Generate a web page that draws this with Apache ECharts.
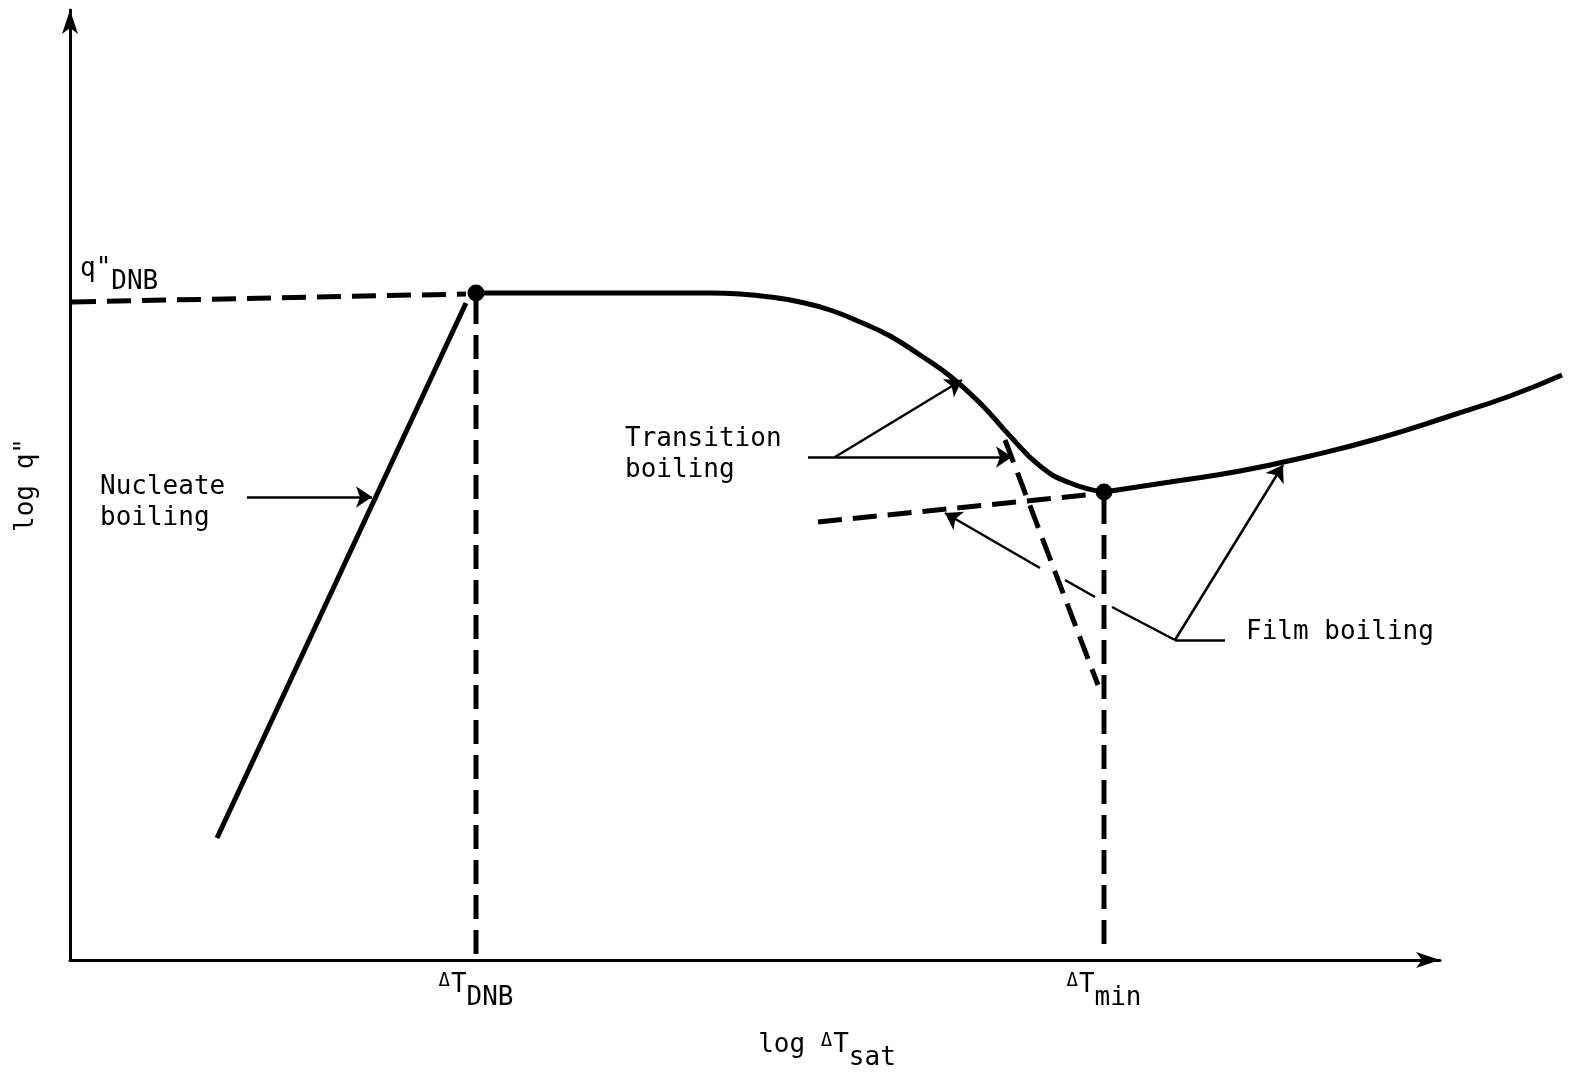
<!DOCTYPE html>
<html><head><meta charset="utf-8">
<script src="https://cdn.jsdelivr.net/npm/echarts@6/dist/echarts.min.js"></script>
<style>html,body{margin:0;padding:0;background:#fff}#c{width:1569px;height:1077px}</style>
</head><body><div id="c"></div>
<script>
// Schematic units: x = log ΔT_sat (0..1370), y = log q" (0..950)
const xTickValues = [406, 1034];
const xTickLabels = ['{d|Δ}{t|T}{s|DNB}', '{d|Δ}{t|T}{s|min}'];
const xAxisTitle = '{t|log }{d|Δ}{t|T}{s|sat}';
const yAxisTitle = 'log q"';

const nucleateLine = [[147, 122], [396, 657]];
const dnbLevelDashed = [[2, 658], [396, 666]];
const dnbVertical = [[406, 660], [406, 5]];
const transitionCurve = [[406, 667], [490, 667], [580, 667], [640, 667], [670, 666], [700, 663], [730, 658], [760, 650], [790, 638], [820, 624], [850, 605], [880, 584], [910, 557], [940, 524], [970, 494], [1000, 477], [1034, 468]];
const filmCurve = [[1034, 468], [1100, 478], [1170, 489], [1240, 504], [1310, 522], [1380, 544], [1440, 564], [1492, 585]];
const filmExtension = [[748, 438], [1026, 466]];
const transitionExtension = [[935, 520], [1028, 275]];
const minVertical = [[1034, 460], [1034, 5]];
const keyPoints = [[406, 667], [1034, 468]];

const arrowLines = [
  [[177, 463], [302, 463]],   // nucleate
  [[765, 503], [892, 580]],   // transition upper
  [[738, 503], [942, 503]],   // transition lower
  [[970, 392], [875, 447]],   // film -> extension
  [[1105, 320], [1213, 495]]  // film -> curve
];
const plainLines = [
  [[995, 380], [1025, 363]],
  [[1042, 353], [1105, 320]],
  [[1105, 320], [1155, 320]]
];
const textLabels = [
  {value: [30, 457], text: 'Nucleate\nboiling'},
  {value: [555, 505], text: 'Transition\nboiling'},
  {value: [1176, 328], text: 'Film boiling'},
  {value: [10, 690], text: '{t|q"}{s|DNB}'}
];

const FONT = 'DejaVu Sans Mono';
const richText = {
  t: {fontSize: 26, fontFamily: FONT, color: '#000', verticalAlign: 'top', lineHeight: 28},
  d: {fontSize: 19, fontFamily: FONT, color: '#000', verticalAlign: 'top', lineHeight: 28, padding: [0, 1, 0, 0]},
  s: {fontSize: 26, fontFamily: FONT, color: '#000', verticalAlign: 'top', lineHeight: 28, padding: [13, 0, 0, 0]}
};

const chart = echarts.init(document.getElementById('c'));
const thick = {color: '#000', width: 5};
const dash = {color: '#000', width: 5, type: [24, 11], cap: 'butt'};
const hiddenAxis = {show: false};

chart.setOption({
  backgroundColor: '#fff',
  animation: false,
  grid: [
    {left: 70, right: 129, top: 10, bottom: 117, containLabel: false, outerBoundsMode: 'none'},
    // same scale, wider area, so the film-boiling curve can run past the axis arrow
    {left: 70, right: 0, top: 10, bottom: 117, containLabel: false, outerBoundsMode: 'none'}
  ],
  xAxis: [{
    type: 'value', min: 0, max: 1370, gridIndex: 0,
    splitLine: {show: false},
    axisTick: {show: false},
    axisLine: {onZero: false, lineStyle: {color: '#000', width: 3}, symbol: ['none', 'arrow'], symbolSize: [12, 24]},
    axisLabel: {
      customValues: xTickValues, margin: 12,
      formatter: function (v) { return xTickLabels[xTickValues.indexOf(v)] || ''; },
      rich: richText
    },
    name: xAxisTitle, nameLocation: 'middle', nameGap: 72,
    nameTextStyle: {rich: richText, padding: [0, 0, 0, 144]}
  }, {
    type: 'value', min: 0, max: 1499, gridIndex: 1,
    show: false, splitLine: hiddenAxis
  }],
  yAxis: [{
    type: 'value', min: 0, max: 950, gridIndex: 0,
    splitLine: {show: false},
    axisTick: {show: false},
    axisLabel: {show: false},
    axisLine: {onZero: false, lineStyle: {color: '#000', width: 3}, symbol: ['none', 'arrow'], symbolSize: [12, 24]},
    name: yAxisTitle, nameLocation: 'middle', nameGap: 31, nameRotate: 90,
    nameTextStyle: {fontSize: 26, fontFamily: FONT, color: '#000'}
  }, {
    type: 'value', min: 0, max: 950, gridIndex: 1,
    show: false, splitLine: hiddenAxis
  }],
  series: [
    {type: 'line', data: nucleateLine, symbol: 'none', lineStyle: thick},
    {type: 'line', data: dnbLevelDashed, symbol: 'none', lineStyle: dash},
    {type: 'line', data: dnbVertical, symbol: 'none', lineStyle: dash},
    {type: 'line', data: transitionCurve, symbol: 'none', smooth: 0.5, lineStyle: thick},
    {type: 'line', data: filmCurve, xAxisIndex: 1, yAxisIndex: 1, symbol: 'none', smooth: 0.5, lineStyle: thick},
    {type: 'line', data: filmExtension, symbol: 'none', lineStyle: dash},
    {type: 'line', data: transitionExtension, symbol: 'none', lineStyle: dash},
    {type: 'line', data: minVertical, symbol: 'none', lineStyle: dash},
    {type: 'scatter', data: keyPoints, symbol: 'circle', symbolSize: 17, itemStyle: {color: '#000', opacity: 1}, z: 5},
    {type: 'lines', coordinateSystem: 'cartesian2d', symbol: ['none', 'arrow'], symbolSize: 16,
      lineStyle: {color: '#000', width: 2.5, opacity: 1}, data: arrowLines.map(c => ({coords: c}))},
    {type: 'lines', coordinateSystem: 'cartesian2d', symbol: 'none',
      lineStyle: {color: '#000', width: 2.5, opacity: 1}, data: plainLines.map(c => ({coords: c}))},
    {type: 'scatter', symbolSize: 0, silent: true, itemStyle: {opacity: 1, color: '#000'},
      data: textLabels.map(d => ({value: d.value, text: d.text})),
      label: {show: true, position: 'right', distance: 0, color: '#000', opacity: 1, fontFamily: FONT, fontSize: 26, lineHeight: 31, align: 'left',
        formatter: p => p.data.text, rich: richText}}
  ]
});
</script></body></html>
